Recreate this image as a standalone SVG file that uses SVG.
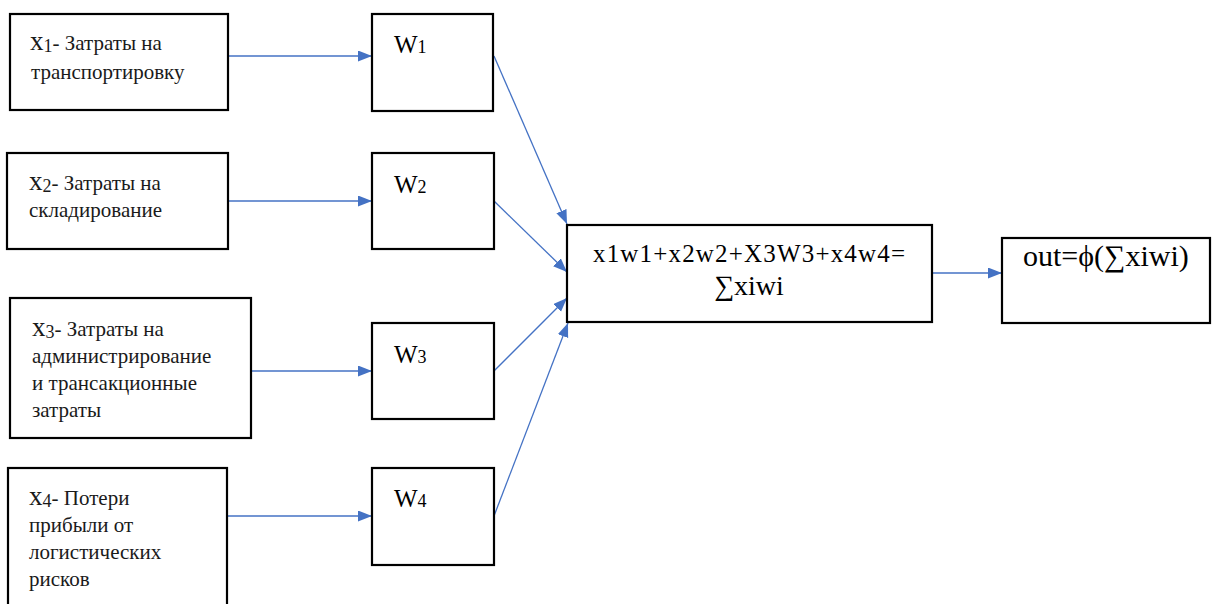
<svg xmlns="http://www.w3.org/2000/svg" width="1212" height="604" viewBox="0 0 1212 604">
<style>
.box{fill:#fff;stroke:#000;stroke-width:2.2}
text{font-family:'Liberation Serif','Times New Roman','DejaVu Serif',serif}
.t{font-size:21px;fill:#1a1a1a}
.w{font-size:25px;fill:#000}
.c{font-size:25px;fill:#000;text-anchor:middle}
.ln{stroke:#4472C4;stroke-width:1.3;fill:none;marker-end:url(#ah)}
</style>
<defs>
<marker id="ah" markerUnits="userSpaceOnUse" markerWidth="15" markerHeight="12" refX="14" refY="5.5" orient="auto">
<path d="M0,0 L14,5.5 L0,11 z" fill="#4472C4"/>
</marker>
</defs>
<rect width="1212" height="604" fill="#fff"/>
<g id="connectors">
<line class="ln" x1="228" y1="56" x2="372" y2="56"/>
<line class="ln" x1="228" y1="201" x2="372" y2="201"/>
<line class="ln" x1="251" y1="371" x2="372" y2="371"/>
<line class="ln" x1="227" y1="516" x2="372" y2="516"/>
<line class="ln" x1="494" y1="56" x2="567" y2="224"/>
<line class="ln" x1="494" y1="201" x2="567" y2="272"/>
<line class="ln" x1="494" y1="371" x2="567" y2="298"/>
<line class="ln" x1="494" y1="516" x2="568" y2="323"/>
<line class="ln" x1="932" y1="273" x2="1002" y2="273"/>
</g>
<g id="x1">
<rect class="box" x="10" y="14" width="218" height="96"/>
<text class="t" x="30" y="50"><tspan font-size="27">x</tspan><tspan font-size="18" dy="2">1</tspan><tspan dy="-2">- Затраты на</tspan></text>
<text class="t" x="31" y="79">транспортировку</text>
</g>
<g id="x2">
<rect class="box" x="7" y="153" width="221" height="96"/>
<text class="t" x="29" y="190"><tspan font-size="27">x</tspan><tspan font-size="18" dy="2">2</tspan><tspan dy="-2">- Затраты на</tspan></text>
<text class="t" x="29" y="217">складирование</text>
</g>
<g id="x3">
<rect class="box" x="10" y="298" width="241" height="140"/>
<text class="t" x="32" y="336"><tspan font-size="27">x</tspan><tspan font-size="18" dy="2">3</tspan><tspan dy="-2">- Затраты на</tspan></text>
<text class="t" x="32" y="363">администрирование</text>
<text class="t" x="32" y="390">и трансакционные</text>
<text class="t" x="32" y="417">затраты</text>
</g>
<g id="x4">
<rect class="box" x="8" y="468" width="219" height="150"/>
<text class="t" x="29" y="505"><tspan font-size="27">x</tspan><tspan font-size="18" dy="2">4</tspan><tspan dy="-2">- Потери</tspan></text>
<text class="t" x="29" y="532">прибыли от</text>
<text class="t" x="29" y="559">логистических</text>
<text class="t" x="29" y="586">рисков</text>
</g>
<g id="w1">
<rect class="box" x="372" y="14" width="121" height="97"/>
<text class="w" x="394" y="53">W<tspan font-size="18">1</tspan></text>
</g>
<g id="w2">
<rect class="box" x="372" y="153" width="122" height="96"/>
<text class="w" x="394" y="193">W<tspan font-size="18">2</tspan></text>
</g>
<g id="w3">
<rect class="box" x="372" y="323" width="122" height="96"/>
<text class="w" x="394" y="363">W<tspan font-size="18">3</tspan></text>
</g>
<g id="w4">
<rect class="box" x="372" y="468" width="122" height="97"/>
<text class="w" x="394" y="507">W<tspan font-size="18">4</tspan></text>
</g>
<g id="sum">
<rect class="box" x="567" y="225" width="365" height="97"/>
<text class="c" x="749" y="262" textLength="312">x1w1+x2w2+X3W3+x4w4=</text>
<text class="c" x="749" y="295" style="font-size:28px">∑xiwi</text>
</g>
<g id="out">
<rect class="box" x="1002" y="238" width="208" height="85"/>
<text class="w" x="1023" y="266" style="font-size:30px">out=ϕ(∑xiwi)</text>
</g>
</svg>
